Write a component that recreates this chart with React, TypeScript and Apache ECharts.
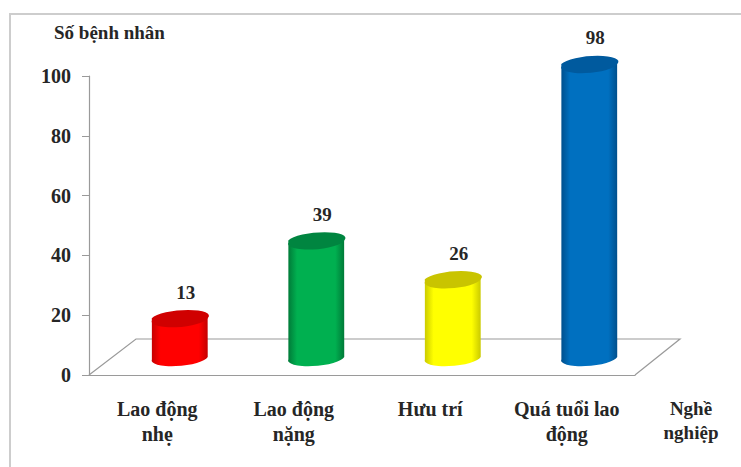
import React, { useEffect, useRef } from "react";
import * as echarts from "echarts";

const categories = ["Lao động\nnhẹ", "Lao động\nnặng", "Hưu trí", "Quá tuổi lao\nđộng"];
const patients = [13, 39, 26, 98];
const yTicks = [0, 20, 40, 60, 80, 100];
const bodyColors = ["#ff0000", "#00b050", "#ffff00", "#0070c0"];
const edgeColors = ["#c40000", "#007a38", "#caca00", "#004f8c"];
const capColors = ["#d00000", "#008540", "#c9c400", "#005a9e"];
const yAxisTitle = "Số bệnh nhân";
const xAxisTitle = "Nghề\nnghiệp";

const FONT = '"Liberation Serif", serif';
const TEXT = "#262626";
const AXIS = "#9a9a9a";

// Oblique offset of the back edge of the floor and of the cylinders' base.
const DEPTH_X = 47;
const DEPTH_Y = 36;
const BASE_X = 22.5;
const BASE_Y = 18;
const TILT = (5 * Math.PI) / 180;
const RY = 7.5;

function renderFloor(params: any) {
  const { x, y, width, height } = params.coordSys;
  const bottom = y + height;
  return {
    type: "polyline",
    silent: true,
    shape: {
      points: [
        [x, bottom],
        [x + DEPTH_X, bottom - DEPTH_Y],
        [x + width + DEPTH_X - 2, bottom - DEPTH_Y],
        [x + width, bottom],
      ],
    },
    style: { fill: "none", stroke: AXIS, lineWidth: 1.2 },
  };
}

function renderCylinder(params: any, api: any) {
  const i = api.value(0);
  const value = api.value(1);
  const base = api.coord([i, 0]);
  const top = api.coord([i, value]);
  const rx = api.size([1, 0])[0] * 0.205;
  const cx = base[0] + BASE_X;
  const by = base[1] - BASE_Y;
  const ty = top[1] - BASE_Y;
  const dx = rx * Math.cos(TILT);
  const dy = rx * Math.sin(TILT);
  const body =
    `M${cx - dx} ${ty + dy} L${cx - dx} ${by + dy} ` +
    `A${rx} ${RY} -5 0 0 ${cx + dx} ${by - dy} L${cx + dx} ${ty - dy} Z`;
  const cap =
    `M${cx - dx} ${ty + dy} A${rx} ${RY} -5 0 0 ${cx + dx} ${ty - dy} ` +
    `A${rx} ${RY} -5 0 0 ${cx - dx} ${ty + dy} Z`;
  const gradient = new echarts.graphic.LinearGradient(0, 0, 1, 0, [
    { offset: 0, color: edgeColors[i] },
    { offset: 0.16, color: bodyColors[i] },
    { offset: 0.84, color: bodyColors[i] },
    { offset: 1, color: edgeColors[i] },
  ]);
  return {
    type: "group",
    children: [
      { type: "path", shape: { pathData: body }, style: { fill: gradient } },
      { type: "path", shape: { pathData: cap }, style: { fill: capColors[i] } },
      {
        type: "text",
        x: cx + 6,
        y: ty - 26,
        style: {
          text: String(value),
          fill: TEXT,
          font: `bold 19px ${FONT}`,
          align: "center",
          verticalAlign: "middle",
        },
      },
    ],
  };
}

export default function App() {
  const ref = useRef<HTMLDivElement>(null);

  useEffect(() => {
    document.body.style.margin = "0";
    const chart = echarts.init(ref.current!, null, { renderer: "svg" });
    chart.setOption({
      animation: false,
      backgroundColor: "#ffffff",
      grid: { left: 89, right: 106, top: 76, bottom: 92 },
      xAxis: {
        type: "category",
        data: categories,
        boundaryGap: true,
        axisLine: { lineStyle: { color: AXIS, width: 1.2 } },
        axisTick: { length: 3, lineStyle: { color: AXIS } },
        axisLabel: {
          interval: 0,
          margin: 21,
          color: TEXT,
          fontFamily: FONT,
          fontWeight: "bold",
          fontSize: 20,
          lineHeight: 25,
        },
      },
      yAxis: {
        type: "value",
        min: yTicks[0],
        max: yTicks[yTicks.length - 1],
        interval: yTicks[1] - yTicks[0],
        splitLine: { show: false },
        axisLine: { show: true, lineStyle: { color: AXIS, width: 1.2 } },
        axisTick: { show: true, length: 7, lineStyle: { color: AXIS } },
        axisLabel: {
          margin: 18,
          color: TEXT,
          fontFamily: FONT,
          fontWeight: "bold",
          fontSize: 20,
        },
      },
      series: [
        { type: "custom", silent: true, clip: false, z: 1, data: [[0, 0]], renderItem: renderFloor },
        {
          type: "custom",
          clip: false,
          z: 2,
          encode: { x: 0, y: 1 },
          data: patients.map((v, i) => [i, v]),
          renderItem: renderCylinder,
        },
      ],
      graphic: [
        {
          type: "polyline",
          silent: true,
          shape: { points: [[10, 467], [10, 14], [741, 14]] },
          style: { fill: "none", stroke: "#cdcdcd", lineWidth: 2 },
        },
        {
          type: "text",
          x: 54,
          y: 32,
          style: {
            text: yAxisTitle,
            fill: TEXT,
            font: `bold 19px ${FONT}`,
            verticalAlign: "middle",
          },
        },
        {
          type: "text",
          x: 691,
          y: 420,
          style: {
            text: xAxisTitle,
            fill: TEXT,
            font: `bold 19px ${FONT}`,
            lineHeight: 24,
            align: "center",
            verticalAlign: "middle",
          },
        },
      ],
    });
    return () => chart.dispose();
  }, []);

  return <div ref={ref} style={{ width: 741, height: 467 }} />;
}
